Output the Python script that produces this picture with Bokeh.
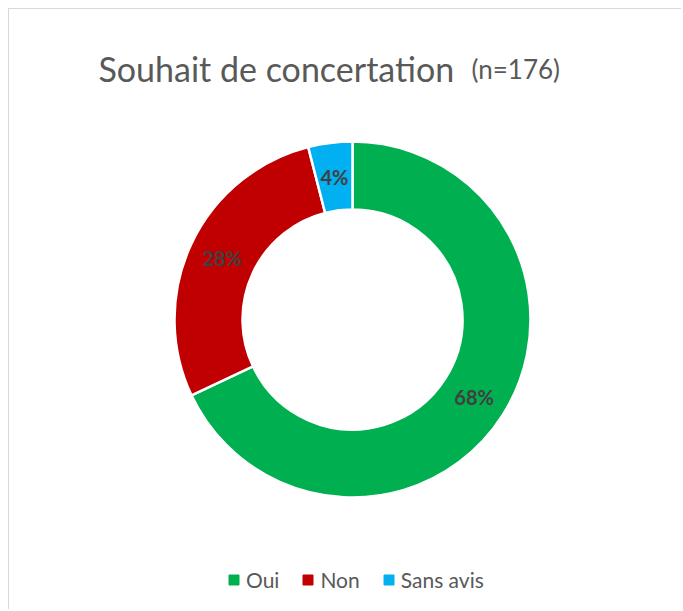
import numpy as np
from bokeh.plotting import figure
from bokeh.models import ColumnDataSource, Label, Legend, LegendItem, Range1d
from bokeh.embed import file_html
from bokeh.resources import INLINE

# ---- data ----
categories = ["Oui", "Non", "Sans avis"]
percentages = [68, 28, 4]
colors = ["#00b050", "#c00000", "#00b0f0"]
title_main = "Souhait de concertation"
title_sub = "(n=176)"

W, H = 673, 601
p = figure(width=W, height=H, output_backend="svg", toolbar_location=None,
           x_range=Range1d(0, W), y_range=Range1d(0, H), min_border=0,
           styles={"margin-left": "8px", "margin-top": "8px",
                   "border-top": "1px solid #d9d9d9", "border-left": "1px solid #d9d9d9"})
p.axis.visible = False
p.grid.visible = False
p.outline_line_color = None
p.background_fill_color = "white"
p.border_fill_color = "white"

cx, cy = 343, 291
r_in, r_out = 110, 178

vals = np.array(percentages, dtype=float)
frac = vals / vals.sum()
cum_end = np.cumsum(frac)
cum_start = cum_end - frac
start = np.pi / 2 - cum_start * 2 * np.pi
end = np.pi / 2 - cum_end * 2 * np.pi
mid = (start + end) / 2
r_lab = (r_in + r_out) / 2

src = ColumnDataSource(dict(
    cat=categories, start=start, end=end, color=colors,
    lx=cx + r_lab * np.cos(mid), ly=cy + r_lab * np.sin(mid),
    lab=[f"{v:g}%" for v in percentages],
))

p.annular_wedge(x=cx, y=cy, inner_radius=r_in, outer_radius=r_out,
                start_angle="start", end_angle="end", direction="clock",
                fill_color="color", line_color="white", line_width=2.5, source=src)

p.text(x="lx", y="ly", text="lab", source=src, text_align="center",
       text_baseline="middle", text_font={"value": "Lato"}, text_font_style="bold",
       text_font_size="20px", text_color="#404040")

# legend proxies
items = []
for c, col in zip(categories, colors):
    r = p.scatter(x=[np.nan], y=[np.nan], marker="square", size=10,
                  fill_color=col, line_color=col)
    items.append(LegendItem(label=c, renderers=[r]))
legend = Legend(items=items, orientation="horizontal", location=(212, 18),
                label_text_font="Lato", label_text_font_size="21px",
                label_text_color="#595959", glyph_width=25, glyph_height=25,
                label_standoff=0, spacing=16, padding=0, margin=0,
                border_line_color=None, background_fill_alpha=0)
p.add_layout(legend, "center")

p.add_layout(Label(x=89, y=542, text=title_main, text_font="Lato",
                   text_font_size="34px", text_color="#595959",
                   text_baseline="alphabetic"))
p.add_layout(Label(x=462, y=542, text=title_sub, text_font="Lato",
                   text_font_size="26px", text_color="#595959",
                   text_baseline="alphabetic"))

open("out.html", "w").write(file_html(p, INLINE))
